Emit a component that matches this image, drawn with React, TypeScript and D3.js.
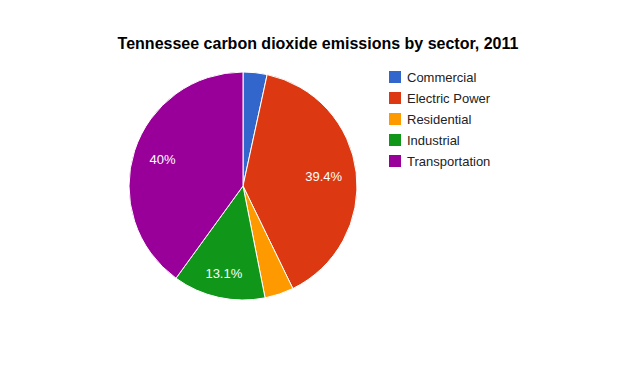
import { useRef, useEffect } from "react";
import * as d3 from "d3";

const sectors = ["Commercial", "Electric Power", "Residential", "Industrial", "Transportation"];
const shares = [3.4, 39.4, 4.1, 13.1, 40.0];
const colors = ["#3366cc", "#dc3912", "#ff9900", "#109618", "#990099"];
const title = "Tennessee carbon dioxide emissions by sector, 2011";

export default function App() {
  const svgRef = useRef<SVGSVGElement>(null);

  useEffect(() => {
    if (!svgRef.current) return;
    const svg = d3.select(svgRef.current);
    svg.selectAll("*").remove();

    const width = 640;
    const height = 371;
    const cx = 243;
    const cy = 186;
    const radius = 114;
    const font = "Arial, 'Liberation Sans', sans-serif";

    svg.attr("width", width).attr("height", height);
    svg.append("rect").attr("width", width).attr("height", height).attr("fill", "#fff");

    svg
      .append("text")
      .attr("x", 318)
      .attr("y", 49)
      .attr("text-anchor", "middle")
      .style("font-family", font)
      .style("font-size", "16px")
      .style("font-weight", "bold")
      .style("fill", "#000")
      .text(title);

    const data = sectors.map((s, i) => ({ name: s, value: shares[i], color: colors[i] }));
    type D = (typeof data)[number];
    const pie = d3.pie<D>().sort(null).value((d) => d.value);
    const arc = d3.arc<d3.PieArcDatum<D>>().innerRadius(0).outerRadius(radius);

    const g = svg.append("g").attr("transform", `translate(${cx},${cy})`);
    const arcs = pie(data);

    g.selectAll("path")
      .data(arcs)
      .join("path")
      .attr("d", arc)
      .attr("fill", (d) => d.data.color)
      .attr("stroke", "#fff")
      .attr("stroke-width", 1);

    // labels pulled inward a bit more when the text runs across the radius
    const labels = g
      .selectAll("text")
      .data(arcs.filter((d) => d.data.value > 10))
      .join("text")
      .attr("text-anchor", "middle")
      .attr("dy", "0.35em")
      .style("font-family", font)
      .style("font-size", "13px")
      .style("fill", "#fff")
      .text((d) => `${d3.format("~")(d.data.value)}%`);

    labels.attr("transform", function (d) {
      const a = (d.startAngle + d.endAngle) / 2;
      const hw = (this as SVGTextElement).getComputedTextLength() / 2;
      const r = radius * 0.8 - 0.54 * hw * Math.abs(Math.sin(a));
      return `translate(${Math.sin(a) * r},${-Math.cos(a) * r})`;
    });

    const leg = svg.append("g").attr("transform", "translate(389,71)");
    const rows = leg
      .selectAll("g")
      .data(data)
      .join("g")
      .attr("transform", (_, i) => `translate(0,${i * 21})`);
    rows.append("rect").attr("width", 12).attr("height", 12).attr("fill", (d) => d.color);
    rows
      .append("text")
      .attr("x", 18)
      .attr("y", 10.5)
      .style("font-family", font)
      .style("font-size", "13px")
      .style("fill", "#222")
      .text((d) => d.name);

    return () => {
      svg.selectAll("*").remove();
    };
  }, []);

  return (
    <div style={{ position: "absolute", left: 0, top: 0 }}>
      <svg ref={svgRef} style={{ display: "block" }} />
    </div>
  );
}
